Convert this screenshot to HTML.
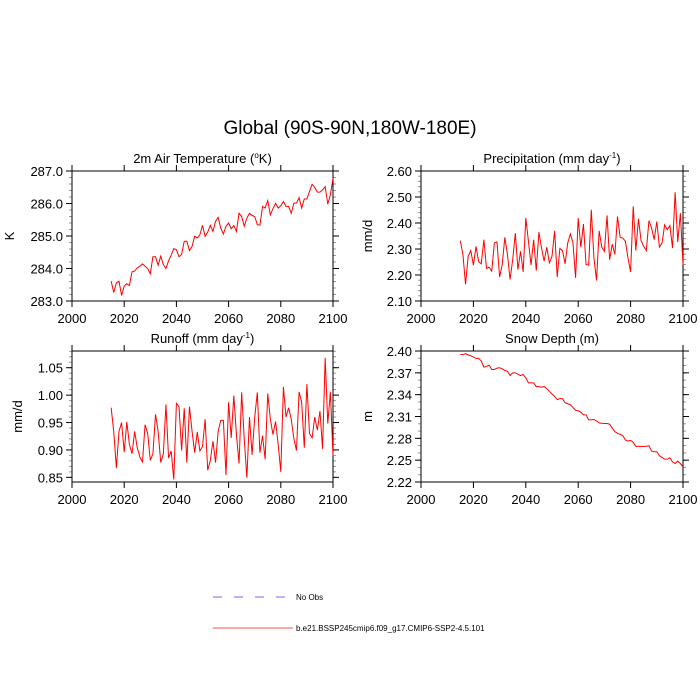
<!DOCTYPE html>
<html><head><meta charset="utf-8"><style>
body{margin:0;background:#fff;}
svg{display:block;font-family:"Liberation Sans",sans-serif;}
</style></head><body>
<svg id="chart" width="700" height="700" viewBox="0 0 700 700" xmlns="http://www.w3.org/2000/svg">
<rect width="700" height="700" fill="#fff"/>
<text x="350" y="134" font-size="19" text-anchor="middle">Global (90S-90N,180W-180E)</text>
<g>
<line x1="213" y1="597" x2="288" y2="597" stroke="#6a6aff" stroke-width="1" stroke-dasharray="9,12"/>
<text x="296" y="600" font-size="8">No Obs</text>
<line x1="213" y1="628" x2="293" y2="628" stroke="#ff5050" stroke-width="1"/>
<text x="296" y="631" font-size="8">b.e21.BSSP245cmip6.f09_g17.CMIP6-SSP2-4.5.101</text>
</g>
</svg>
<script>
const startYear = 2015;
const xTicks = [2000, 2020, 2040, 2060, 2080, 2100];
const tempValues = [283.61,283.26,283.56,283.61,283.17,283.46,283.53,283.48,283.90,283.92,284.02,284.07,284.14,284.07,284.00,283.84,284.36,284.36,284.10,284.38,284.12,284.00,284.24,284.41,284.61,284.58,284.36,284.43,284.84,284.84,284.55,284.68,284.99,284.94,285.04,285.33,284.99,285.12,285.33,285.14,285.45,285.57,285.24,285.06,285.30,285.40,285.22,285.32,285.14,285.70,285.60,285.30,285.55,285.70,285.63,285.60,285.35,285.33,285.91,285.86,286.09,285.65,285.84,286.01,285.86,285.93,286.06,285.91,285.91,285.70,286.01,286.01,286.18,285.86,286.14,286.14,286.37,286.59,286.49,286.35,286.35,286.42,286.52,285.98,286.27,286.78];
const tempTicks = ["283.0","284.0","285.0","286.0","287.0"];
const precipValues = [2.332,2.279,2.164,2.272,2.294,2.238,2.310,2.251,2.243,2.336,2.225,2.230,2.215,2.323,2.327,2.192,2.240,2.345,2.279,2.183,2.259,2.361,2.221,2.291,2.212,2.419,2.330,2.238,2.336,2.217,2.365,2.304,2.253,2.307,2.247,2.272,2.370,2.192,2.302,2.294,2.243,2.323,2.358,2.323,2.189,2.419,2.307,2.396,2.240,2.238,2.451,2.266,2.179,2.370,2.307,2.291,2.429,2.259,2.319,2.279,2.425,2.345,2.342,2.330,2.266,2.212,2.464,2.294,2.416,2.332,2.310,2.294,2.409,2.381,2.336,2.406,2.307,2.323,2.393,2.374,2.390,2.304,2.518,2.327,2.438,2.240];
const precipTicks = ["2.10","2.20","2.30","2.40","2.50","2.60"];
const runoffValues = [0.977,0.933,0.867,0.934,0.950,0.896,0.951,0.910,0.893,0.934,0.904,0.887,0.878,0.946,0.930,0.881,0.893,0.965,0.934,0.877,0.893,0.983,0.885,0.898,0.846,0.985,0.979,0.899,0.976,0.877,0.979,0.934,0.895,0.933,0.898,0.906,0.956,0.863,0.881,0.916,0.877,0.934,0.954,0.954,0.854,0.987,0.922,0.999,0.928,0.875,1.005,0.920,0.849,0.960,0.891,0.959,1.005,0.895,0.926,0.883,1.003,0.956,0.928,0.952,0.910,0.860,1.015,0.960,0.977,0.956,0.921,0.899,1.006,0.987,0.904,1.020,0.930,0.922,0.960,0.936,0.971,0.902,1.068,0.948,1.006,0.889];
const runoffTicks = ["0.85","0.90","0.95","1.00","1.05"];
const snowValues = [2.3954,2.3949,2.3963,2.3945,2.3935,2.3917,2.3898,2.3898,2.3862,2.3778,2.3788,2.3806,2.3746,2.3746,2.3765,2.3769,2.3755,2.3732,2.3723,2.3663,2.3700,2.3700,2.3682,2.3663,2.3677,2.3631,2.3562,2.3562,2.3562,2.3511,2.3511,2.3502,2.3511,2.3483,2.3446,2.3409,2.3377,2.3331,2.3345,2.3345,2.3289,2.3275,2.3262,2.3225,2.3183,2.3179,2.3160,2.3123,2.3123,2.3054,2.3054,2.3059,2.3040,2.3012,2.3008,2.3003,2.3003,2.2994,2.2939,2.2892,2.2869,2.2856,2.2837,2.2777,2.2763,2.2772,2.2745,2.2689,2.2689,2.2689,2.2689,2.2689,2.2699,2.2625,2.2616,2.2616,2.2560,2.2537,2.2514,2.2514,2.2533,2.2477,2.2454,2.2486,2.2454,2.2408];
const snowTicks = ["2.22","2.25","2.28","2.31","2.34","2.37","2.40"];

const NS = "http://www.w3.org/2000/svg";
const svg = document.getElementById("chart");
function mk(tag, attrs, parent){const e=document.createElementNS(NS,tag);for(const k in attrs)e.setAttribute(k,attrs[k]);(parent||svg).appendChild(e);return e;}

function panel(cfg){
  const g = mk("g",{});
  
  
  const L=cfg.x0,R=cfg.x1,T=cfg.y0,B=cfg.y1;
  const xs = v => L + (v-2000)/100*(R-L);
  const ys = v => B - (v-cfg.ymin)/(cfg.ymax-cfg.ymin)*(B-T);
  // minor y ticks
  for(let v=cfg.minorStart; v<=cfg.ymax+1e-9; v+=cfg.minor){
    if(v<cfg.ymin-1e-9) continue;
    const y=ys(v);
    const t1 = mk("line",{x1:L-3,y1:y,x2:L,y2:y,stroke:"#999","stroke-width":1},g);
    
    
    const t2 = mk("line",{x1:R,y1:y,x2:R+3,y2:y,stroke:"#999","stroke-width":1},g);
    
    
  }
  // major y ticks and labels
  cfg.ticks.forEach(lbl=>{
    const y=ys(parseFloat(lbl));
    const a=mk("line",{x1:L-6,y1:y,x2:L,y2:y,stroke:"#000","stroke-width":1},g);
    
    
    const b=mk("line",{x1:R,y1:y,x2:R+6,y2:y,stroke:"#000","stroke-width":1},g);
    
    
    const t=mk("text",{x:L-9,y:y+5,"font-size":13,"text-anchor":"end"},g);
    
    
    t.textContent=lbl;
  });
  // x ticks
  xTicks.forEach(v=>{
    const x=xs(v);
    const a=mk("line",{x1:x,y1:B,x2:x,y2:B+6,stroke:"#000","stroke-width":1},g);
    
    
    const b=mk("line",{x1:x,y1:T-6,x2:x,y2:T,stroke:"#000","stroke-width":1},g);
    
    
    const t=mk("text",{x:x,y:B+22,"font-size":13,"text-anchor":"middle"},g);
    
    
    t.textContent=v;
  });
  const fr=mk("rect",{x:L,y:T,width:R-L,height:B-T,fill:"none",stroke:"#000","stroke-width":1},g);
  
  
  const pts=cfg.values.map((v,i)=>xs(startYear+i).toFixed(2)+","+ys(v).toFixed(2)).join(" ");
  const pl=mk("polyline",{points:pts,fill:"none",stroke:"#ff0000","stroke-width":1},g);
  
  
  const ti=mk("text",{x:(L+R)/2,y:T-8,"font-size":13,"text-anchor":"middle"},g);
  
  
  ti.innerHTML=cfg.title;
  const yt=mk("text",{x:0,y:0,"font-size":13,"text-anchor":"middle",transform:`translate(${cfg.ytx},${(T+B)/2}) rotate(-90)`},g);
  
  
  yt.textContent=cfg.ytitle;
}
panel({name:"panel-temperature",x0:72,x1:333,y0:171,y1:301,ymin:283,ymax:287,minor:0.2,minorStart:283,ticks:tempTicks,values:tempValues,title:'2m Air Temperature (<tspan font-size="8" dy="-5">o</tspan><tspan dy="5">K)</tspan>',ytitle:"K",ytx:14});
panel({name:"panel-precipitation",x0:421,x1:683,y0:171,y1:301,ymin:2.10,ymax:2.60,minor:0.02,minorStart:2.10,ticks:precipTicks,values:precipValues,title:'Precipitation (mm day<tspan font-size="8" dy="-5">-1</tspan><tspan dy="5">)</tspan>',ytitle:"mm/d",ytx:372});
panel({name:"panel-runoff",x0:72,x1:333,y0:351,y1:482,ymin:0.8415,ymax:1.0805,minor:0.01,minorStart:0.85,ticks:runoffTicks,values:runoffValues,title:'Runoff (mm day<tspan font-size="8" dy="-5">-1</tspan><tspan dy="5">)</tspan>',ytitle:"mm/d",ytx:22});
panel({name:"panel-snow-depth",x0:421,x1:683,y0:351,y1:482,ymin:2.22,ymax:2.40,minor:0.01,minorStart:2.22,ticks:snowTicks,values:snowValues,title:'Snow Depth (m)',ytitle:"m",ytx:372});
</script>
</body></html>
